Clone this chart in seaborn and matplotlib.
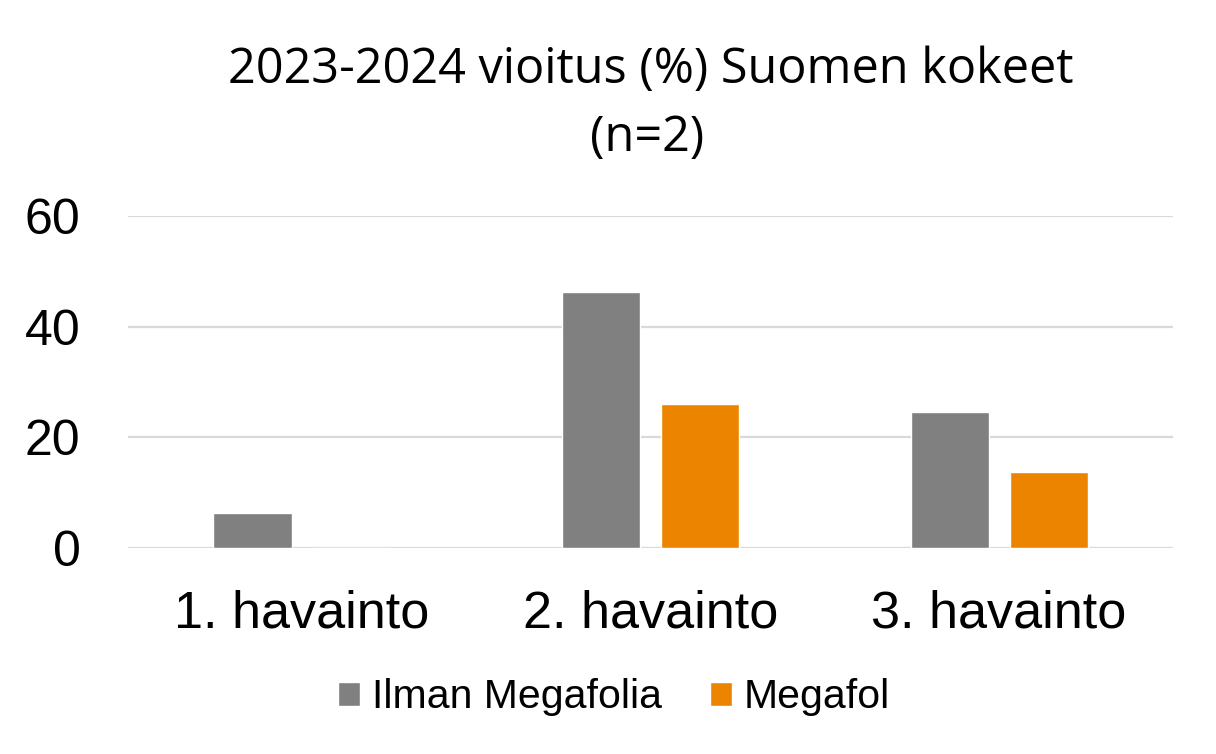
import pandas as pd
import seaborn as sns

import matplotlib.pyplot as plt

# Data
categories = ['1. havainto', '2. havainto', '3. havainto']
ilman_megafolia = [6.3, 46.2, 24.6]
megafol = [0.0, 26.1, 13.7]
series_names = ['Ilman Megafolia', 'Megafol']
y_ticks = [0, 20, 40, 60]

df = pd.DataFrame({
    'havainto': categories * 2,
    'vioitus': ilman_megafolia + megafol,
    'sarja': [series_names[0]] * 3 + [series_names[1]] * 3,
})

sns.set_style("white")
plt.rcParams['font.family'] = ['Liberation Sans', 'DejaVu Sans']
plt.rcParams['text.color'] = 'black'
plt.rcParams['xtick.color'] = 'black'
plt.rcParams['ytick.color'] = 'black'

fig = plt.figure(figsize=(12.16, 7.54), dpi=100)
ax = fig.add_axes([0.105, 0.273, 0.86, 0.4405])

sns.barplot(data=df, x='havainto', y='vioitus', hue='sarja',
            palette=['#808080', '#EC8400'], width=0.568, gap=0.21,
            saturation=1, ax=ax)

ax.set_ylim(0, 60)
ax.set_yticks(y_ticks)
ax.set_xlim(-0.5, 2.5)
ax.yaxis.grid(True, color='#D9D9D9', linewidth=1.6)
ax.set_axisbelow(True)
for s in ax.spines.values():
    s.set_visible(False)
ax.set_xlabel('')
ax.set_ylabel('')
ax.tick_params(axis='y', length=0, pad=34, labelsize=36)
ax.tick_params(axis='x', length=0, pad=30, labelsize=37.5)

# Title in two lines
fig.text(0.535, 0.907, '2023-2024 vioitus (%) Suomen kokeet', ha='center',
         va='center', fontsize=35, family='Open Sans')
fig.text(0.532, 0.817, '(n=2)', ha='center', va='center', fontsize=35,
         family='Open Sans')

handles, labels = ax.get_legend_handles_labels()
ax.get_legend().remove()
fig.legend(handles, labels, loc='center', bbox_to_anchor=(0.505, 0.075),
           ncol=2, frameon=False, fontsize=29.5, handlelength=0.53,
           handleheight=0.53, handletextpad=0.3, columnspacing=1.17)

fig.savefig('out.png', dpi=100)
